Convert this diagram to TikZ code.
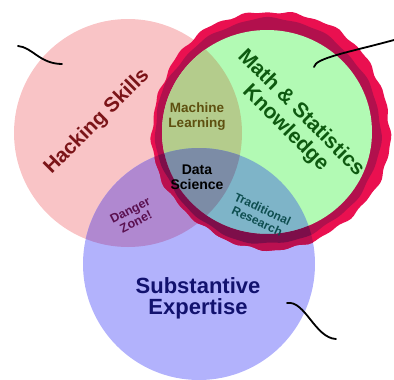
\documentclass[tikz,border=0pt]{standalone}
\usepackage{fontspec}
\setmainfont{Liberation Sans}
\definecolor{pinkc}{RGB}{249,196,198}
\definecolor{greenc}{RGB}{178,250,180}
\definecolor{bluec}{RGB}{178,178,252}
\definecolor{dangerc}{RGB}{176,136,208}
\definecolor{mlc}{RGB}{180,204,140}
\definecolor{dsc}{RGB}{124,140,166}
\definecolor{trc}{RGB}{126,180,200}
\definecolor{ringbright}{RGB}{234,16,80}
\definecolor{ringdark}{RGB}{178,16,77}
\definecolor{ringbrightb}{RGB}{186,16,80}
\definecolor{ringdarkb}{RGB}{125,14,74}
\definecolor{hackc}{RGB}{123,20,24}
\definecolor{mathc}{RGB}{14,90,16}
\definecolor{mlt}{RGB}{94,80,16}
\definecolor{dzt}{RGB}{90,16,80}
\definecolor{trt}{RGB}{14,78,80}
\definecolor{set}{RGB}{18,18,110}
\begin{document}
\begin{tikzpicture}[x=1pt,y=-1pt,
  lbl/.style={font=\bfseries, align=center, inner sep=0pt},
  squig/.style={draw=black, line width=1.8pt, line cap=round}]
\useasboundingbox (0,0) rectangle (394,380);
\def\pinkp{(128,133) circle[radius=114]}
\def\bluep{(199,264) circle[radius=116]}
\def\ringA{plot[smooth cycle,domain=0:358,samples=180] ({271+(119+0.9*sin(17*\x)+0.7*sin(31*\x+40)+1.2*sin(5*\x))*cos(\x)},{130+(119+0.9*sin(17*\x)+0.7*sin(31*\x+40)+1.2*sin(5*\x))*sin(\x)})}
\def\ringB{plot[smooth cycle,domain=0:358,samples=180] ({268+(112+0.8*sin(11*\x+20)+0.5*sin(23*\x)+1*sin(4*\x+60))*cos(\x)},{131+(112+0.8*sin(11*\x+20)+0.5*sin(23*\x)+1*sin(4*\x+60))*sin(\x)})}
\def\innerp{(267,132) ellipse[x radius=105, y radius=102]}
% base circles
\fill[pinkc] \pinkp;
\fill[bluec] \bluep;
\begin{scope}\clip \pinkp; \fill[dangerc] \bluep; \end{scope}
% ring
\fill[ringbright] \ringA;
\fill[ringdark] \ringB;
\fill[greenc] \innerp;
\begin{scope}
  \clip \innerp;
  \fill[mlc] \pinkp;
  \fill[trc] \bluep;
  \clip \pinkp;
  \fill[dsc] \bluep;
\end{scope}
\begin{scope}
  \clip \bluep;
  \fill[ringbrightb, even odd rule] \ringA \ringB;
  \fill[ringdarkb, even odd rule] \ringB \innerp;
\end{scope}
% labels
\node[lbl, text=hackc, rotate=45, font=\bfseries\fontsize{20.5}{22}\selectfont] (hack) at (97,122) {Hacking Skills};
\node[lbl, text=mathc, rotate=-45, font=\bfseries\fontsize{21}{22}\selectfont] (math) at (293,121) {Math \& Statistics\\Knowledge};
\node[lbl, text=mlt, font=\bfseries\fontsize{13.5}{15}\selectfont] (ml) at (197,117) {Machine\\Learning};
\node[lbl, text=black, font=\bfseries\fontsize{14}{15}\selectfont] (ds) at (197,177) {Data\\Science};
\node[lbl, text=dzt, rotate=27, font=\bfseries\fontsize{12.5}{13}\selectfont] (dz) at (133,216) {Danger\\Zone!};
\node[lbl, text=trt, rotate=-25, font=\bfseries\fontsize{12}{13}\selectfont] (tr) at (260,215) {Traditional\\Research};
\node[lbl, text=set, font=\bfseries\fontsize{22}{21}\selectfont] (se) at (198,298) {Substantive\\Expertise};
% squiggles
\coordinate (s1a) at (18,46); \coordinate (s1b) at (62,64);
\coordinate (s2a) at (314,67); \coordinate (s2b) at (394,40);
\coordinate (s3a) at (287,303); \coordinate (s3b) at (336,339);
\draw[squig] (s1a) .. controls (32,47) and (40,64) .. (s1b);
\draw[squig] (s2a) .. controls (315,58) and (350,52) .. (s2b);
\draw[squig] (s3a) .. controls (305,300) and (315,338) .. (s3b);
\end{tikzpicture}
\end{document}
